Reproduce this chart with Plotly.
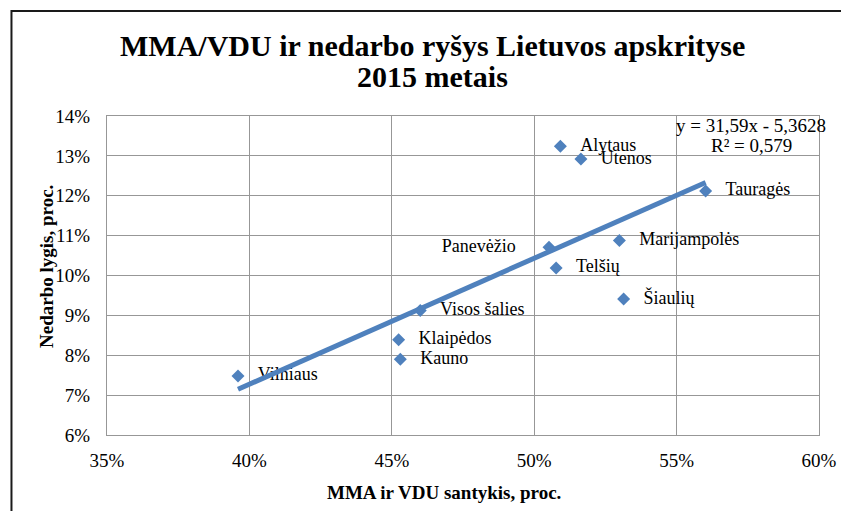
import plotly.graph_objects as go

# Data (percent)
regions = ["Vilniaus", "Kauno", "Klaipėdos", "Visos šalies", "Panevėžio", "Telšių",
           "Alytaus", "Utenos", "Marijampolės", "Šiaulių", "Tauragės"]
mma_vdu = [39.6, 45.3, 45.24, 46.0, 50.52, 50.77, 50.92, 51.64, 52.99, 53.14, 56.02]
unemployment = [7.48, 7.9, 8.39, 9.12, 10.71, 10.19, 13.24, 12.92, 10.88, 9.41, 12.12]
label_pos = ["middle right"] * 4 + ["middle left"] + ["middle right"] * 6

# Trendline coefficients as printed on chart (x as fraction, y in %)
slope = 31.59
intercept = -5.3628
r2 = 0.579

x_ticks = [35, 40, 45, 50, 55, 60]
y_ticks = [6, 7, 8, 9, 10, 11, 12, 13, 14]

FONT = "Liberation Serif"
BLUE = "#4F81BD"
GRID = "#979797"

NB = "\u00a0"
TH = "\u2009"
texts = []
for r, p in zip(regions, label_pos):
    if p == "middle left":
        texts.append(r + NB * 5 + TH)
    else:
        texts.append(TH + NB * 2 + r)

tx = [min(mma_vdu), max(mma_vdu)]
ty = [slope * v / 100 + intercept for v in tx]

fig = go.Figure()
fig.add_trace(go.Scatter(
    x=mma_vdu, y=unemployment, mode="markers+text",
    marker=dict(symbol="diamond", size=10, color=BLUE),
    text=texts, textposition=label_pos,
    textfont=dict(family=FONT, size=18, color="black"),
    hoverinfo="skip", showlegend=False, cliponaxis=False,
))
fig.add_trace(go.Scatter(
    x=tx, y=ty, mode="lines",
    line=dict(color=BLUE, width=5),
    hoverinfo="skip", showlegend=False,
))

# page body has an 8px margin; work in reference pixel coords minus 8
OFF = 8
W, H = 849 - OFF, 511 - OFF
L, T = 107 - OFF, 116 - OFF
R = W - (830 - OFF)
B = H - (435 - OFF)
pw, ph = W - L - R, H - T - B


def px_x(p):
    return (p - OFF - L) / pw


def px_y(p):
    return (H - B - (p - OFF)) / ph


def ann(text, x, y, size, **kw):
    d = dict(text=text, xref="paper", yref="paper", x=px_x(x), y=px_y(y),
             xanchor="center", yanchor="middle", showarrow=False,
             font=dict(family=FONT, size=size, color="black"))
    d.update(kw)
    return d


fig.update_layout(
    width=W, height=H,
    margin=dict(l=L, r=R, t=T, b=B),
    paper_bgcolor="white", plot_bgcolor="white",
    font=dict(family=FONT, color="black"),
    xaxis=dict(
        range=[35, 60], tickvals=x_ticks, ticktext=[f"{v}%" for v in x_ticks],
        showgrid=True, gridcolor=GRID, gridwidth=1,
        showline=True, linecolor=GRID, linewidth=1, mirror=True,
        zeroline=False, ticks="", ticklabelstandoff=8,
        tickfont=dict(family=FONT, size=19, color="black"),
    ),
    yaxis=dict(
        range=[6, 14], tickvals=y_ticks, ticktext=[f"{v}%" for v in y_ticks],
        showgrid=True, gridcolor=GRID, gridwidth=1,
        showline=True, linecolor=GRID, linewidth=1, mirror=True,
        zeroline=False, ticks="", ticklabelstandoff=12,
        tickfont=dict(family=FONT, size=19, color="black"),
    ),
    annotations=[
        ann("<b>MMA/VDU ir nedarbo ryšys Lietuvos apskrityse</b>", 438, 46, 30),
        ann("<b>2015 metais</b>", 438, 76, 30),
        ann("<b>MMA ir VDU santykis, proc.</b>", 449, 492, 19),
        ann("<b>Nedarbo lygis, proc.</b>", 45, 266, 19, textangle=-90),
        ann(f"y = {slope:.2f}x - {abs(intercept):.4f}".replace(".", ","), 761, 125, 19),
        ann(f"R² = {r2:.3f}".replace(".", ","), 761, 145, 19),
    ],
    shapes=[
        dict(type="rect", xref="paper", yref="paper",
             x0=px_x(10), x1=px_x(870), y0=px_y(540), y1=px_y(11),
             line=dict(color="#1a1a1a", width=2), fillcolor="rgba(0,0,0,0)",
             layer="below"),
    ],
)

fig.write_html("out.html")
